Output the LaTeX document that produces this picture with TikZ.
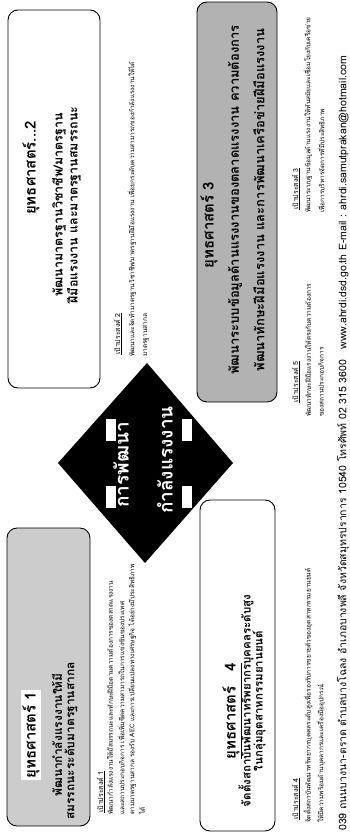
\documentclass[tikz,border=0pt]{standalone}
\usepackage{fontspec}
\newfontfamily\thaifont[Script=Thai]{Loma}
\usepackage{tikz}

\begin{document}
\begin{tikzpicture}[
	x=1pt,y=-1pt,
	sbox/.style={draw=black,line width=0.9pt,rounded corners=10pt},
	btext/.style={rotate=90,font=\thaifont\bfseries\fontsize{12.5}{13}\selectfont,inner sep=0pt},
	htext/.style={rotate=90,font=\thaifont\bfseries\fontsize{15}{15}\selectfont,inner sep=1.5pt},
	ghead/.style={rotate=90,anchor=west,font=\thaifont\fontsize{7}{8}\selectfont,inner sep=0pt},
	gtext/.style={rotate=90,anchor=west,font=\thaifont\fontsize{6.5}{7}\selectfont,inner sep=0pt},
	atext/.style={rotate=90,font=\thaifont\bfseries\fontsize{19}{19}\selectfont,text=white,inner sep=0pt}
	]
	\useasboundingbox (0,0) rectangle (350,833);
	% the four strategy boxes
	\draw[sbox,fill=gray!40] (7,528) rectangle (90,826);
	\draw[sbox,fill=white] (8,10) rectangle (100,388);
	\draw[sbox,fill=gray!60] (197,2) rectangle (277,402);
	\draw[sbox,fill=white] (200,500) rectangle (275,831);

	\node[htext,fill=white] (h1) at (31,735) {ยุทธศาสตร์ 1};
	\node[btext,font=\thaifont\bfseries\fontsize{12}{12}\selectfont] (t1a) at (57,735) {พัฒนากำลังแรงงานให้มี};
	\node[btext,font=\thaifont\bfseries\fontsize{12}{12}\selectfont] (t1b) at (71,741) {สมรรถนะระดับมาตรฐานสากล};

	\node[htext] (h2) at (31,168) {ยุทธศาสตร์...2};
	\node[btext] (t2a) at (59,205) {พัฒนามาตรฐานวิชาชีพ/มาตรฐาน};
	\node[btext] (t2b) at (74,205) {ฝีมือแรงงาน และมาตรฐานสมรรถนะ};

	\node[htext] (h3) at (209,225) {ยุทธศาสตร์ 3};
	\node[btext,font=\thaifont\bfseries\fontsize{13}{13}\selectfont] (t3a) at (235,200) {พัฒนาระบบข้อมูลด้านแรงงานของตลาดแรงงาน ความต้องการ};
	\node[btext,font=\thaifont\bfseries\fontsize{13}{13}\selectfont] (t3b) at (259,200) {พัฒนาทักษะฝีมือแรงงาน และการพัฒนาเครือข่ายฝีมือแรงงาน};

	\node[htext] (h4) at (232,711) {\underline{ยุทธศาสตร์\ \ \ 4}};
	\node[btext,font=\thaifont\bfseries\fontsize{11.5}{12}\selectfont] (t4a) at (246,701) {จัดตั้งสถาบันพัฒนาทรัพยากรบุคคลระดับสูง};
	\node[btext,font=\thaifont\bfseries\fontsize{11.5}{12}\selectfont] (t4b) at (259,701) {ในกลุ่มอุตสาหกรรมยานยนต์};

	% centre: four arrows
	\fill[black] (147,363) -- (233,463) -- (145,563) -- (58,463) -- cycle;
	\foreach \nx/\ny in {106/419,182/419,106/486,182/486}{
		\fill[white] (\nx,\ny) rectangle ++(10,22);
	}
	\node[atext] (c1) at (121,465) {การพัฒนา};
	\node[atext] (c2) at (165,460) {กำลังแรงงาน};

	% goals
	\node[ghead] (g1) at (101,813) {\underline{เป้าประสงค์ 1}};
	\node[gtext] (g1a) at (110,815) {พัฒนากำลังแรงงานให้มีสมรรถนะและทักษะฝีมือตามความต้องการของตลาดแรงงาน};
	\node[gtext] (g1b) at (121,815) {และสถานประกอบกิจการ เพื่อเพิ่มขีดความสามารถในการแข่งขันของประเทศ};
	\node[gtext] (g1c) at (132,815) {ตามมาตรฐานสากล รองรับ AEC และการเปลี่ยนแปลงทางเศรษฐกิจ ได้อย่างมีประสิทธิภาพ};
	\node[gtext] (g1d) at (142,815) {ได้};

	\node[ghead] (g2) at (118,355) {\underline{เป้าประสงค์ 2}};
	\node[gtext] (g2a) at (132,357) {พัฒนาและจัดทำมาตรฐานวิชาชีพ/มาตรฐานฝีมือแรงงาน  เพื่อยกระดับความสามารถของกำลังแรงงานให้ได้};
	\node[gtext] (g2b) at (146,357) {มาตรฐานสากล};

	\node[ghead] (g3) at (296,210) {\underline{เป้าประสงค์ 3}};
	\node[gtext] (g3a) at (308,213) {พัฒนาระบบฐานข้อมูลด้านแรงงานให้ทันสมัยและเชื่อมโยงกับเครือข่าย};
	\node[gtext] (g3b) at (321,213) {เพื่อการบริหารจัดการที่มีประสิทธิภาพ};

	\node[ghead] (g5) at (296,403) {\underline{เป้าประสงค์ 5}};
	\node[gtext] (g5a) at (308,417) {พัฒนาทักษะฝีมือแรงงานให้ตรงกับความต้องการ};
	\node[gtext] (g5b) at (321,417) {ของสถานประกอบกิจการ};

	\node[ghead] (g4) at (296,820) {\underline{เป้าประสงค์ 4}};
	\node[gtext] (g4a) at (308,823) {จัดตั้งสถาบันพัฒนาทรัพยากรบุคคลระดับสูงเพื่อรองรับการขยายตัวของอุตสาหกรรมยานยนต์};
	\node[gtext] (g4b) at (321,823) {ให้มีความพร้อมด้านบุคลากรและเครื่องมืออุปกรณ์};

	% footer
	\node[gtext,font=\thaifont\fontsize{10.5}{11}\selectfont] (addr) at (343,831) {039 ถนนบางนา-ตราด ตำบลบางโฉลง อำเภอบางพลี จังหวัดสมุทรปราการ 10540 โทรศัพท์ 02 315 3600 \ \ www.ahrdi.dsd.go.th E-mail : ahrdi.samutprakan@hotmail.com};
\end{tikzpicture}
\end{document}
